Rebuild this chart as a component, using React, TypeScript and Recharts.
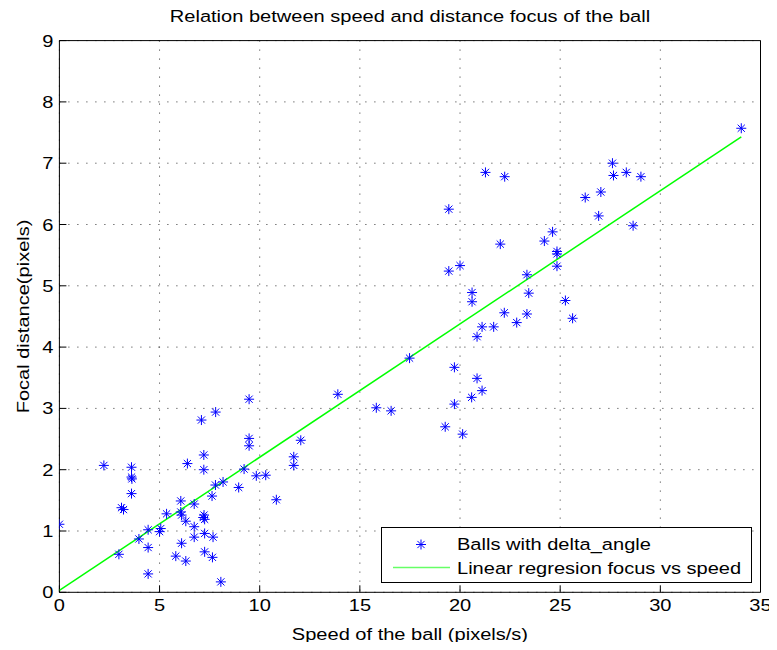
import React from 'react';
import { ScatterChart, Scatter, XAxis, YAxis, CartesianGrid, Legend } from 'recharts';

// Measured ball speed (pixels/s) and focal distance (pixels)
const speed = [
  0.0, 2.22, 3.6, 3.6, 3.62, 3.6, 3.1, 3.2, 2.97, 4.43,
  4.43, 4.43, 3.97, 5.0, 5.06, 5.35, 6.06, 6.06, 6.1, 6.31,
  6.73, 6.73, 6.73, 6.1, 5.81, 6.31, 6.39, 7.09, 7.8, 7.21,
  7.21, 7.22, 7.18, 7.25, 7.25, 7.67, 7.25, 7.64, 8.06, 7.79,
  7.62, 8.17, 8.95, 9.22, 9.47, 9.47, 9.47, 9.83, 10.3, 10.83,
  11.7, 11.7, 12.05, 13.9, 15.82, 16.56, 17.48, 19.72, 19.72, 19.26,
  20.13, 19.44, 21.27, 22.23, 27.61, 27.66, 28.3, 29.03, 26.25, 27.03,
  26.92, 28.64, 34.04, 19.44, 20.0, 22.01, 24.21, 24.62, 24.84, 24.84,
  24.84, 23.34, 23.43, 20.6, 20.6, 25.26, 25.62, 22.21, 23.34, 22.83,
  21.1, 21.68, 20.85, 20.85, 21.1, 20.58,
];
const focal = [
  1.11, 2.07, 2.04, 1.88, 1.85, 1.61, 1.38, 1.35, 0.62, 0.30,
  1.02, 0.73, 0.87, 0.99, 1.04, 1.28, 1.49, 1.31, 1.26, 1.16,
  1.44, 1.07, 0.90, 0.80, 0.59, 0.51, 2.10, 2.81, 2.94, 2.24,
  2.00, 1.26, 1.22, 1.19, 0.96, 0.90, 0.66, 0.57, 0.17, 1.75,
  1.57, 1.80, 1.71, 2.01, 3.15, 2.51, 2.39, 1.90, 1.91, 1.51,
  2.21, 2.07, 2.48, 3.23, 3.01, 2.96, 3.82, 3.67, 3.07, 2.70,
  2.58, 6.25, 6.85, 6.78, 7.00, 6.80, 6.85, 6.78, 6.44, 6.53,
  6.14, 5.98, 7.57, 5.24, 5.33, 5.68, 5.73, 5.88, 5.56, 5.52,
  5.32, 5.18, 4.88, 4.89, 4.74, 4.76, 4.47, 4.56, 4.54, 4.40,
  4.33, 4.33, 4.17, 3.49, 3.29, 3.18,
];

// End points of the fitted regression line
const fitSpeed = [0, 34.04];
const fitFocal = [0.03, 7.43];

const xTicks = [0, 5, 10, 15, 20, 25, 30, 35];
const yTicks = [0, 1, 2, 3, 4, 5, 6, 7, 8, 9];

const seriesLabels = ['Balls with delta_angle', 'Linear regresion focus vs speed'];
const titleText = 'Relation between speed and distance focus of the ball';
const xLabelText = 'Speed of the ball (pixels/s)';
const yLabelText = 'Focal distance(pixels)';

const balls = speed.map((s, i) => ({ x: s, y: focal[i] }));
const fit = fitSpeed.map((s, i) => ({ x: s, y: fitFocal[i] }));

const FONT = '"Liberation Sans", Arial, Helvetica, sans-serif';
const FONT_SIZE = 17;
const WIDE = 1.18; // horizontal glyph stretch of the figure's font
const BLUE = '#0000ff';
const GREEN = '#00ff00';

// Text drawn with the wide figure font, anchored at (x, y)
const WideText = ({ x, y, anchor = 'start', rotate = 0, dy, children }: any) => (
  <text
    transform={`translate(${x} ${y}) rotate(${rotate}) scale(${WIDE} 1)`}
    x={0}
    y={0}
    dy={dy}
    textAnchor={anchor}
    fontSize={FONT_SIZE}
    fontFamily={FONT}
    fill="#000"
  >
    {children}
  </text>
);

const StarMark = ({ cx, cy }: { cx: number; cy: number }) => {
  const r = 5;
  const d = 3.6;
  return (
    <g stroke={BLUE} strokeWidth={1} fill="none">
      <line x1={cx - r} y1={cy} x2={cx + r} y2={cy} />
      <line x1={cx} y1={cy - r} x2={cx} y2={cy + r} />
      <line x1={cx - d} y1={cy - d} x2={cx + d} y2={cy + d} />
      <line x1={cx - d} y1={cy + d} x2={cx + d} y2={cy - d} />
    </g>
  );
};

const NoMark = () => <g />;

const LegendBox = () => (
  <svg width={371} height={56} style={{ display: 'block' }}>
    <rect x={0.5} y={0.5} width={370} height={55} fill="#fff" stroke="#000" strokeWidth={1} />
    <StarMark cx={40} cy={17.5} />
    <line x1={12} y1={40.5} x2={69} y2={40.5} stroke={GREEN} strokeWidth={1.5} strokeOpacity={0.6} />
    <WideText x={76} y={22.5}>{seriesLabels[0]}</WideText>
    <WideText x={76} y={46.5}>{seriesLabels[1]}</WideText>
  </svg>
);

const XTick = (props: any) => (
  <WideText x={props.x} y={props.y} anchor="middle" dy="0.71em">
    {props.payload.value}
  </WideText>
);

const YTick = (props: any) => (
  <WideText x={props.x} y={props.y} anchor="end" dy="0.355em">
    {props.payload.value}
  </WideText>
);

const TitleLabel = (props: any) => {
  const vb = props.viewBox;
  return (
    <WideText x={vb.x + vb.width / 2} y={vb.y + vb.height - 18.3} anchor="middle">
      {titleText}
    </WideText>
  );
};

const XLabel = (props: any) => {
  const vb = props.viewBox;
  return (
    <WideText x={vb.x + vb.width / 2} y={vb.y + 47.7} anchor="middle">
      {xLabelText}
    </WideText>
  );
};

const YLabel = (props: any) => {
  const vb = props.viewBox;
  return (
    <WideText x={vb.x + 20.5} y={vb.y + vb.height / 2} anchor="middle" rotate={-90}>
      {yLabelText}
    </WideText>
  );
};

const axisStroke = { stroke: '#000', strokeWidth: 1 };

export default function App() {
  return (
    <div style={{ width: 769, height: 634, background: '#fff', overflow: 'visible' }}>
      <ScatterChart
        width={769}
        height={642}
        margin={{ top: 31.6, right: 15.5, bottom: 8, left: 0 }}
        style={{ fontFamily: FONT }}
      >
        <CartesianGrid stroke="#333" strokeDasharray="1 8" fill="#fff" />
        <XAxis
          type="number"
          dataKey="x"
          domain={[0, 35]}
          ticks={xTicks}
          allowDataOverflow
          height={49.7}
          tickSize={-7}
          tickMargin={14}
          tick={XTick}
          axisLine={axisStroke}
          tickLine={axisStroke}
          label={XLabel}
        />
        <XAxis
          xAxisId="top"
          orientation="top"
          type="number"
          domain={[0, 35]}
          ticks={xTicks}
          allowDataOverflow
          height={1}
          tickSize={-7}
          tick={false}
          axisLine={axisStroke}
          tickLine={axisStroke}
          label={TitleLabel}
        />
        <YAxis
          type="number"
          dataKey="y"
          domain={[0, 9]}
          ticks={yTicks}
          allowDataOverflow
          width={51.4}
          tickSize={-7}
          tickMargin={13}
          tick={YTick}
          axisLine={axisStroke}
          tickLine={axisStroke}
          label={YLabel}
        />
        <YAxis
          yAxisId="right"
          orientation="right"
          type="number"
          domain={[0, 9]}
          ticks={yTicks}
          allowDataOverflow
          width={1}
          tickSize={-7}
          tick={false}
          axisLine={axisStroke}
          tickLine={axisStroke}
        />
        <Scatter
          name={seriesLabels[1]}
          data={fit}
          line={{ stroke: GREEN, strokeWidth: 1.5 }}
          lineType="joint"
          shape={NoMark}
          isAnimationActive={false}
        />
        <Scatter
          name={seriesLabels[0]}
          data={balls}
          shape={StarMark as any}
          isAnimationActive={false}
        />
        <Legend
          layout="horizontal"
          verticalAlign="middle"
          align="center"
          wrapperStyle={{ left: 373, top: 519, width: 371, height: 56 }}
          content={LegendBox}
        />
      </ScatterChart>
    </div>
  );
}
